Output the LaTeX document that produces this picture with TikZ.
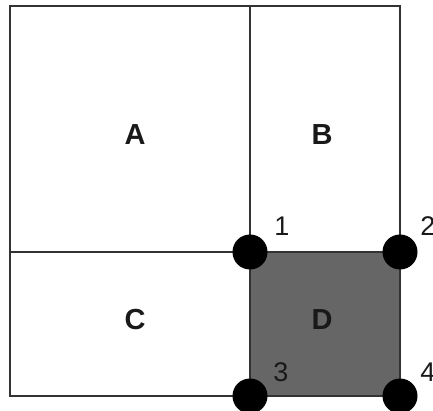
\documentclass[tikz,border=0pt]{standalone}
\usepackage{fontspec}
\setmainfont{Liberation Sans}
\begin{document}
\begin{tikzpicture}[x=1pt,y=-1pt,
  edge/.style={draw=black!80,line width=1.3pt},
  region/.style={font=\bfseries\fontsize{29}{29}\selectfont,text=black!90},
  corner/.style={circle,fill=black,inner sep=0pt,minimum size=35pt},
  num/.style={font=\fontsize{27}{27}\selectfont,text=black!90}]
\useasboundingbox (0,0) rectangle (433,411);
% corners
\coordinate (TL) at (10,6);
\coordinate (TM) at (250,6);
\coordinate (TR) at (400,6);
\coordinate (ML) at (10,252);
\coordinate (BL) at (10,396);
% shaded square D
\fill[black!60] (250,252) rectangle (400,396);
\draw[edge] (TL) rectangle (400,396);
\draw[edge] (TM) -- (250,396);
\draw[edge] (ML) -- (400,252);
% labels
\node[region] (A) at (135,135) {A};
\node[region] (B) at (322,135) {B};
\node[region] (C) at (135,320) {C};
\node[region] (D) at (322,320) {D};
% dots
\node[corner] (p1) at (250,252) {};
\node[corner] (p2) at (400,252) {};
\node[corner] (p3) at (250,396) {};
\node[corner] (p4) at (400,396) {};
\node[num] (n1) at (282,226) {1};
\node[num] (n2) at (428,226) {2};
\node[num] (n3) at (281,372) {3};
\node[num] (n4) at (428,372) {4};
\end{tikzpicture}
\end{document}
